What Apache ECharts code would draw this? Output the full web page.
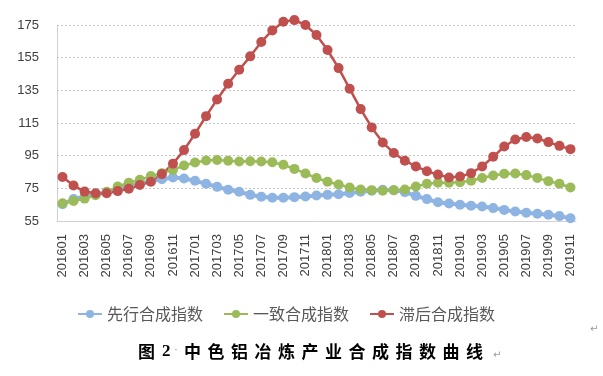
<!DOCTYPE html>
<html>
<head>
<meta charset="utf-8">
<script src="https://cdn.jsdelivr.net/npm/echarts@6/dist/echarts.min.js"></script>
<style>
html,body{margin:0;padding:0;background:#fff;}
#main{width:603px;height:376px;}
</style>
</head>
<body>
<div id="main"></div>
<script>
let months = ['201601','201602','201603','201604','201605','201606','201607','201608','201609','201610','201611','201612',
    '201701','201702','201703','201704','201705','201706','201707','201708','201709','201710','201711','201712',
    '201801','201802','201803','201804','201805','201806','201807','201808','201809','201810','201811','201812',
    '201901','201902','201903','201904','201905','201906','201907','201908','201909','201910','201911'];
let seriesNames = ['先行合成指数','一致合成指数','滞后合成指数'];
let leading = [65.3,68.4,70,71.4,72.4,74.1,76.1,77.8,79.4,80.6,81.6,81,79.6,77.8,75.9,74.1,72.9,71,69.8,69.2,69.2,69.6,70,70.6,
    71,71.4,72.1,72.9,73.5,74.1,73.9,72.7,70.4,68.4,66.5,65.7,64.9,64.3,63.9,62.9,61.8,60.8,60,59.4,58.8,58,56.7];
let coincident = [65.9,67.3,68.7,70.8,72.9,76.1,78.4,80.2,82.5,84.3,86.3,89,90.8,92,92.3,91.9,91.4,91.6,91.4,91,89.4,86.9,84.1,81.3,
    79,77.4,75.5,74.3,73.9,73.5,73.9,74.3,76.1,77.8,78.4,78.4,78.8,79.6,81.3,82.9,83.9,84.1,83.1,81.4,79.4,77.8,75.5];
let lagging = [81.9,76.7,73,72,72,73.3,74.7,77,79,83.7,90,98.4,108.4,119.2,129.4,139,147.6,155.8,164.6,171.7,177,178,175,168.9,
    159.7,148.6,136,123.5,112.3,103.1,96.6,91.9,88.4,85.5,83.4,81.6,82.2,84.3,88.4,94.3,100.6,104.9,106.4,105.5,103.3,101,99];
let caption = '中色铝冶炼产业合成指数曲线';

let myChart = echarts.init(document.getElementById('main'));

// 图注逐字排开（Word 里字距较宽）
let captionTexts = [
    {type:'text', left:138, top:343, style:{text:'图', font:'bold 17px "Noto Sans CJK SC"', fill:'#000'}},
    {type:'text', left:162, top:343, style:{text:'2', font:'bold 17px "Liberation Serif"', fill:'#000'}},
    {type:'text', left:174, top:344, style:{text:'·', font:'12px "Liberation Sans"', fill:'#999'}}
];
caption.split('').forEach(function (ch, i) {
    captionTexts.push({type:'text', left:184 + i * 23.5, top:343,
        style:{text:ch, font:'bold 17px "Noto Sans CJK SC"', fill:'#000'}});
});
captionTexts.push({type:'text', left:493, top:350, style:{text:'↵', font:'10px "DejaVu Sans"', fill:'#999'}});
captionTexts.push({type:'text', left:590, top:324, style:{text:'↵', font:'10px "DejaVu Sans"', fill:'#999'}});

function lineSeries(name, data, color, width, size) {
    return {
        name: name,
        type: 'line',
        data: data,
        clip: false,
        symbol: 'circle',
        symbolSize: size,
        showAllSymbol: true,
        lineStyle: {color: color, width: width},
        itemStyle: {color: color},
        emphasis: {disabled: true}
    };
}

let option = {
    animation: false,
    grid: {left: 57, right: 27, top: 25, bottom: 155},
    legend: {
        data: seriesNames,
        left: 72,
        top: 301,
        itemWidth: 24,
        itemHeight: 10,
        itemGap: 20,
        textStyle: {fontFamily: 'Noto Sans CJK SC', fontSize: 16, color: '#595959'}
    },
    xAxis: {
        type: 'category',
        data: months,
        boundaryGap: true,
        axisLine: {lineStyle: {color: '#d0d0d0', width: 1}},
        axisTick: {show: false},
        axisLabel: {
            interval: 1,
            rotate: 90,
            margin: 13,
            fontFamily: 'Liberation Sans',
            fontSize: 13,
            color: '#404040'
        }
    },
    yAxis: {
        type: 'value',
        min: 55,
        max: 175,
        interval: 20,
        axisLine: {show: true, lineStyle: {color: '#d0d0d0', width: 1}},
        axisTick: {show: false},
        axisLabel: {margin: 18, fontFamily: 'Liberation Sans', fontSize: 13, color: '#404040'},
        splitLine: {lineStyle: {color: '#c8c8c8', type: [2, 2]}}
    },
    series: [
        lineSeries(seriesNames[0], leading, '#8db4e2', 4, 10),
        lineSeries(seriesNames[1], coincident, '#9bbb59', 2.5, 10),
        lineSeries(seriesNames[2], lagging, '#c0504d', 2.5, 10)
    ],
    graphic: captionTexts
};
myChart.setOption(option);
</script>
</body>
</html>
